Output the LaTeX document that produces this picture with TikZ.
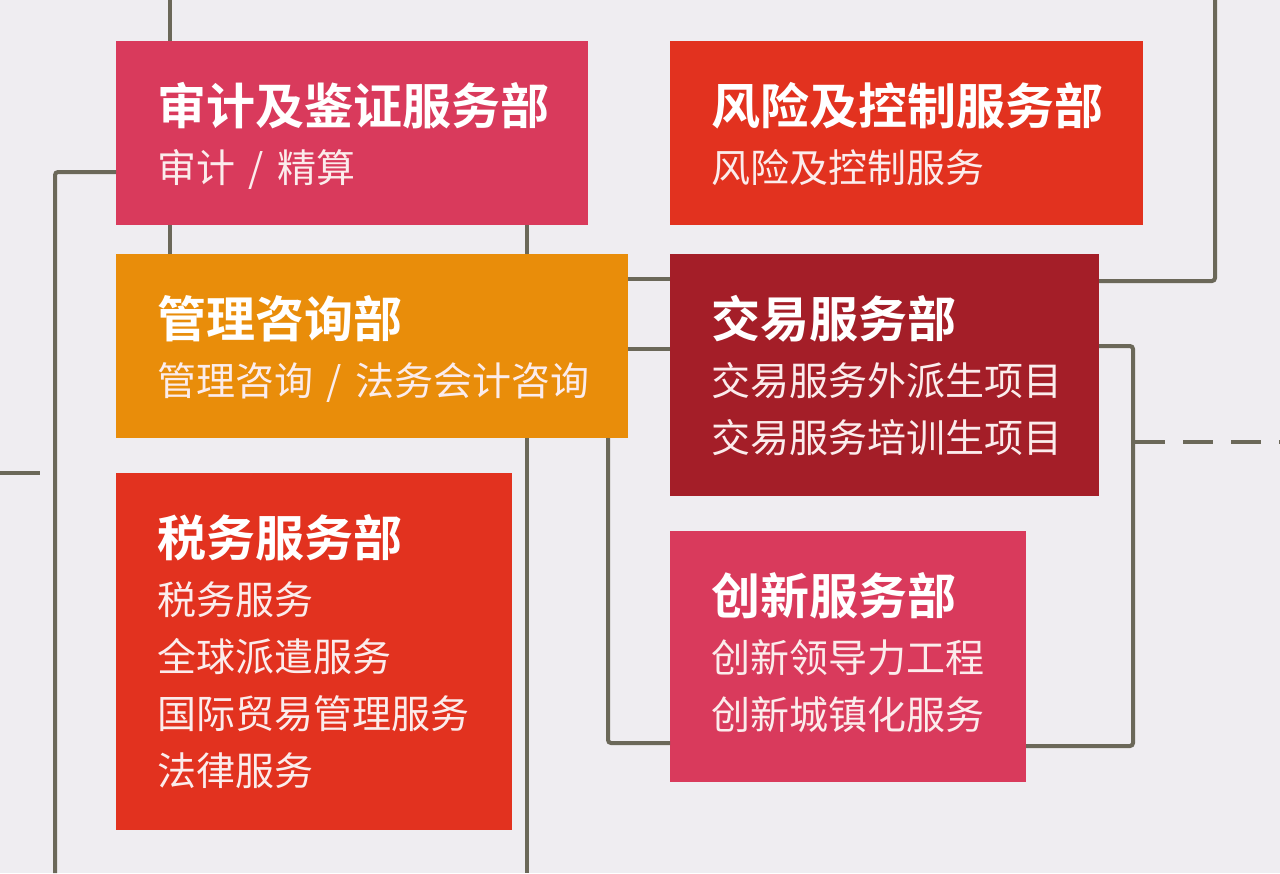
\documentclass[tikz,border=0pt]{standalone}
\usepackage{fontspec}
\setmainfont{Noto Sans CJK SC}
\newfontfamily\ttlfont{Noto Sans CJK SC Bold}
\definecolor{bgc}{HTML}{EFEDF1}
\definecolor{linec}{HTML}{6B6859}
\definecolor{pinkc}{HTML}{D93A5C}
\definecolor{redc}{HTML}{E2321F}
\definecolor{orangec}{HTML}{E98D0A}
\definecolor{darkredc}{HTML}{A41E28}
\definecolor{subc}{HTML}{FBECEC}
\newcommand{\slashsep}{\hspace{0.35em}/\hspace{0.35em}}
\tikzset{
  dept/.style={draw=none, anchor=north west, inner sep=0pt, outer sep=0pt},
  ttl/.style={anchor=base west, inner sep=0pt, text=white, font=\ttlfont\fontsize{49pt}{49pt}\selectfont},
  sub/.style={anchor=base west, inner sep=0pt, text=subc, font=\fontsize{39pt}{39pt}\selectfont},
  conn/.style={draw=linec, line width=4pt, rounded corners=3pt},
}
\begin{document}
\begin{tikzpicture}[x=1pt,y=-1pt]
\fill[bgc] (0,0) rectangle (1280,873);
\useasboundingbox (0,0) rectangle (1280,873);
% boxes
\node[dept, fill=pinkc, minimum width=472pt, minimum height=184pt] (b1) at (116,41) {};
\node[dept, fill=redc, minimum width=473pt, minimum height=184pt] (b2) at (670,41) {};
\node[dept, fill=orangec, minimum width=512pt, minimum height=184pt] (b3) at (116,254) {};
\node[dept, fill=darkredc, minimum width=429pt, minimum height=242pt] (b4) at (670,254) {};
\node[dept, fill=redc, minimum width=396pt, minimum height=357pt] (b5) at (116,473) {};
\node[dept, fill=pinkc, minimum width=356pt, minimum height=251pt] (b6) at (670,531) {};
% coordinates
\coordinate (t1) at (170,0);
\coordinate (t2) at (1215,0);
\coordinate (bl) at (55,873);
\coordinate (bm) at (527,873);
\coordinate (st0) at (0,473);
\coordinate (st1) at (40,473);
\coordinate (de) at (1280,442);
% connectors
\draw[conn] (t1) -- (t1 |- b1.north);
\draw[conn] (t1 |- b1.south) -- (t1 |- b3.north);
\draw[conn] (bm |- b1.south) -- (bm |- b3.north);
\draw[conn] (bm |- b3.south) -- (bm);
\draw[conn] (b1.west |- 0,172) -- (55,172) -- (bl);
\draw[conn] (st0) -- (st1);
\draw[conn] (b3.east |- 0,279) -- (b4.west |- 0,279);
\draw[conn] (b3.east |- 0,349) -- (b4.west |- 0,349);
\draw[conn] (b4.east |- 0,281) -- (t2 |- 0,281) -- (t2);
\draw[conn] (b4.east |- 0,346) -- (1133,346) -- (1133,746) -- (b6.east |- 0,746);
\draw[conn] (608,438) -- (608,743) -- (b6.west |- 0,743);
\draw[draw=linec, line width=4pt, dash pattern=on 30pt off 18pt] (1135,442) -- (de);
% texts
\node[ttl] (t1a) at (157,124) {审计及鉴证服务部};
\node[sub] (t1b) at (157,182) {审计\slashsep 精算};
\node[ttl] (t2a) at (711,124) {风险及控制服务部};
\node[sub] (t2b) at (711,182) {风险及控制服务};
\node[ttl] (t3a) at (157,337) {管理咨询部};
\node[sub] (t3b) at (157,395) {管理咨询\slashsep 法务会计咨询};
\node[ttl] (t4a) at (711,337) {交易服务部};
\node[sub] (t4b) at (711,395) {交易服务外派生项目};
\node[sub] (t4c) at (711,452) {交易服务培训生项目};
\node[ttl] (t5a) at (157,556) {税务服务部};
\node[sub] (t5b) at (157,614) {税务服务};
\node[sub] (t5c) at (157,671) {全球派遣服务};
\node[sub] (t5d) at (157,728) {国际贸易管理服务};
\node[sub] (t5e) at (157,785) {法律服务};
\node[ttl] (t6a) at (711,614) {创新服务部};
\node[sub] (t6b) at (711,672) {创新领导力工程};
\node[sub] (t6c) at (711,729) {创新城镇化服务};
\end{tikzpicture}
\end{document}
